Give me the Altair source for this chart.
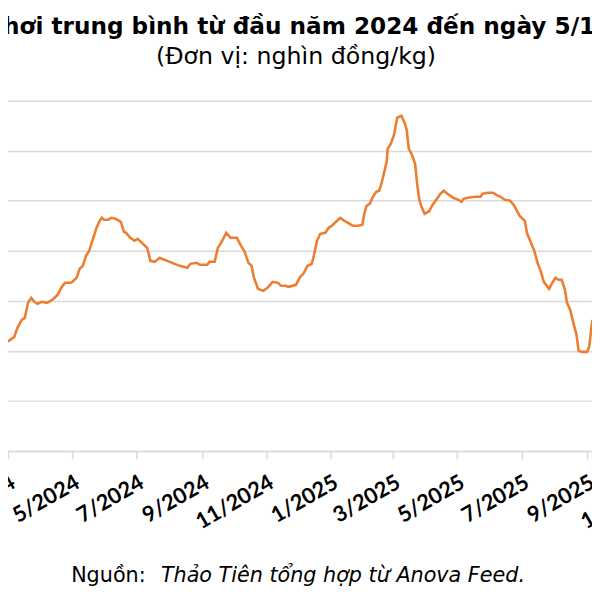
import altair as alt
import pandas as pd

dates = [
    "2024-02-22", "2024-02-25", "2024-02-29",
    "2024-03-03", "2024-03-07", "2024-03-10", "2024-03-14", "2024-03-17", "2024-03-20", "2024-03-23", "2024-03-26", "2024-03-29",
    "2024-04-02", "2024-04-07", "2024-04-12", "2024-04-17", "2024-04-21", "2024-04-24", "2024-04-29",
    "2024-05-01", "2024-05-05", "2024-05-08", "2024-05-11", "2024-05-14", "2024-05-17", "2024-05-20", "2024-05-24", "2024-05-27", "2024-05-29", "2024-05-31",
    "2024-06-04", "2024-06-07", "2024-06-11", "2024-06-16", "2024-06-19", "2024-06-21", "2024-06-25", "2024-06-29",
    "2024-07-02", "2024-07-07", "2024-07-11", "2024-07-14", "2024-07-18", "2024-07-23", "2024-07-25", "2024-07-30",
    "2024-08-06", "2024-08-11", "2024-08-18", "2024-08-21", "2024-08-27", "2024-08-30",
    "2024-09-06", "2024-09-08", "2024-09-13", "2024-09-16", "2024-09-19", "2024-09-22", "2024-09-24", "2024-09-28",
    "2024-10-01", "2024-10-04", "2024-10-08", "2024-10-11", "2024-10-15", "2024-10-18", "2024-10-20", "2024-10-24", "2024-10-29",
    "2024-11-02", "2024-11-07", "2024-11-12", "2024-11-15", "2024-11-19", "2024-11-22", "2024-11-29",
    "2024-12-03", "2024-12-06", "2024-12-10", "2024-12-14", "2024-12-16", "2024-12-19", "2024-12-22", "2024-12-27", "2024-12-30",
    "2025-01-02", "2025-01-05", "2025-01-10", "2025-01-14", "2025-01-19", "2025-01-22", "2025-01-27", "2025-01-31",
    "2025-02-02", "2025-02-04", "2025-02-07", "2025-02-10", "2025-02-13", "2025-02-16", "2025-02-19", "2025-02-23", "2025-02-24", "2025-02-27",
    "2025-03-02", "2025-03-05", "2025-03-09", "2025-03-12", "2025-03-14", "2025-03-16", "2025-03-19", "2025-03-22", "2025-03-24", "2025-03-26", "2025-03-28", "2025-03-31",
    "2025-04-03", "2025-04-04", "2025-04-07", "2025-04-11", "2025-04-15", "2025-04-18", "2025-04-23", "2025-04-27",
    "2025-05-02", "2025-05-05", "2025-05-07", "2025-05-11", "2025-05-18", "2025-05-23", "2025-05-25", "2025-05-30",
    "2025-06-04", "2025-06-07", "2025-06-11", "2025-06-15", "2025-06-20", "2025-06-24", "2025-06-29",
    "2025-07-04", "2025-07-06", "2025-07-09", "2025-07-13", "2025-07-16", "2025-07-19", "2025-07-22", "2025-07-27", "2025-07-30",
    "2025-08-02", "2025-08-05", "2025-08-08", "2025-08-11", "2025-08-13", "2025-08-16", "2025-08-20", "2025-08-22", "2025-08-24", "2025-08-27",
    "2025-09-01", "2025-09-03", "2025-09-06",
]

prices = [
    51.3, 51.2, 50.9,
    51.1, 51.4, 52.3, 53.1, 53.3, 54.8, 55.3, 54.9, 54.7,
    54.9, 54.8, 55.1, 55.6, 56.4, 56.8, 56.8,
    56.9, 57.3, 58.2, 58.5, 59.5, 60.0, 61.0, 62.3, 63.0, 63.3, 63.1,
    63.1, 63.3, 63.2, 62.9, 61.9, 61.8, 61.3, 61.0,
    61.2, 60.7, 60.3, 59.0, 58.9, 59.3, 59.2, 59.0,
    58.7, 58.5, 58.3, 58.7, 58.8, 58.6,
    58.6, 58.9, 58.9, 60.3, 60.8, 61.4, 61.8, 61.3,
    61.3, 61.3, 60.5, 60.0, 58.8, 58.5, 57.4, 56.2, 56.0,
    56.3, 56.9, 56.8, 56.5, 56.5, 56.4, 56.6,
    57.4, 57.7, 58.5, 58.7, 59.5, 61.0, 61.7, 61.8, 62.3,
    62.5, 62.8, 63.3, 63.0, 62.7, 62.5, 62.5, 62.6,
    63.8, 64.5, 64.7, 65.4, 65.9, 66.0, 67.1, 68.9, 70.2, 70.7,
    71.6, 73.3, 73.5, 72.8, 72.1, 70.2, 69.6, 68.7, 66.6, 65.1, 64.4, 63.7,
    63.9, 63.9, 64.5, 65.1, 65.7, 66.0, 65.6, 65.3,
    65.1, 64.9, 65.2, 65.3, 65.4, 65.4, 65.7, 65.8,
    65.8, 65.6, 65.4, 65.1, 65.0, 64.5, 63.5,
    63.0, 61.8, 61.0, 60.0, 58.8, 58.0, 56.9, 56.2, 56.8,
    57.3, 57.1, 57.1, 56.1, 54.8, 54.1, 52.4, 51.6, 50.0, 49.9,
    49.9, 50.4, 53.1,
]

tick_months = [(2024, m) for m in (1, 3, 5, 7, 9, 11)] + [(2025, m) for m in (1, 3, 5, 7, 9, 11)]
y_grid_values = [40, 45, 50, 55, 60, 65, 70, 75]

title_text = "Giá lợn hơi trung bình từ đầu năm 2024 đến ngày 5/11/2025"
subtitle_text = "(Đơn vị: nghìn đồng/kg)"
source_label = "Nguồn:"
source_text = "Thảo Tiên tổng hợp từ Anova Feed."

df = pd.DataFrame({"date": dates, "price": prices})

W, H = 592, 355

x_scale = alt.Scale(
    type="utc",
    domain=[alt.DateTime(year=2024, month=1, date=1, utc=True),
            alt.DateTime(year=2025, month=11, date=5, utc=True)],
    range=[-64.2, 656.5],
    nice=False,
)

line = alt.Chart(df).mark_line(color="#ED7D31", strokeWidth=2.6).encode(
    x=alt.X(
        "date:T",
        scale=x_scale,
        axis=alt.Axis(
            title=None,
            grid=False,
            values=[alt.DateTime(year=y, month=m, date=1, utc=True) for y, m in tick_months],
            labelExpr="utcFormat(datum.value, '%-m/%Y')",
            domainColor="#d9d9d9",
            domainWidth=1.5,
            tickColor="#d9d9d9",
            tickWidth=1.5,
            tickSize=8,
            labelAngle=330,
            labelAlign="right",
            labelBaseline="top",
            labelFont="Lato",
            labelFontSize=22,
            labelFontWeight="bold",
            labelColor="#000000",
            labelPadding=13,
            labelOverlap=False,
            labelFlush=False,
        ),
    ),
    y=alt.Y(
        "price:Q",
        scale=alt.Scale(domain=[40, 75], nice=False, zero=False),
        axis=alt.Axis(
            title=None,
            values=y_grid_values,
            labels=False,
            ticks=False,
            domain=False,
            grid=True,
            gridColor="#d9d9d9",
            gridWidth=1.5,
        ),
    ),
)

title_layer = alt.Chart(pd.DataFrame({"t": [title_text]})).mark_text(
    font="DejaVu Sans", fontSize=23.5, fontWeight="bold", align="center",
    baseline="alphabetic", color="#000000",
).encode(text="t:N", x=alt.value(290), y=alt.value(-68))

subtitle_layer = alt.Chart(pd.DataFrame({"t": [subtitle_text]})).mark_text(
    font="DejaVu Sans", fontSize=24, align="center",
    baseline="alphabetic", color="#000000",
).encode(text="t:N", x=alt.value(292), y=alt.value(-37))

source_label_layer = alt.Chart(pd.DataFrame({"t": [source_label]})).mark_text(
    font="DejaVu Sans", fontSize=21, align="left",
    baseline="alphabetic", color="#000000",
).encode(text="t:N", x=alt.value(64), y=alt.value(488))

source_text_layer = alt.Chart(pd.DataFrame({"t": [source_text]})).mark_text(
    font="DejaVu Sans", fontSize=21, fontStyle="italic", align="left",
    baseline="alphabetic", color="#000000",
).encode(text="t:N", x=alt.value(155), y=alt.value(488))

chart = alt.layer(
    line, title_layer, subtitle_layer, source_label_layer, source_text_layer
).properties(
    width=W,
    height=H,
    padding={"left": 0, "top": 90, "right": 0, "bottom": 139},
    autosize=alt.AutoSizeParams(type="none"),
).configure_view(stroke=None)

chart.save("out.html", embed_options={"renderer": "svg", "actions": False})
